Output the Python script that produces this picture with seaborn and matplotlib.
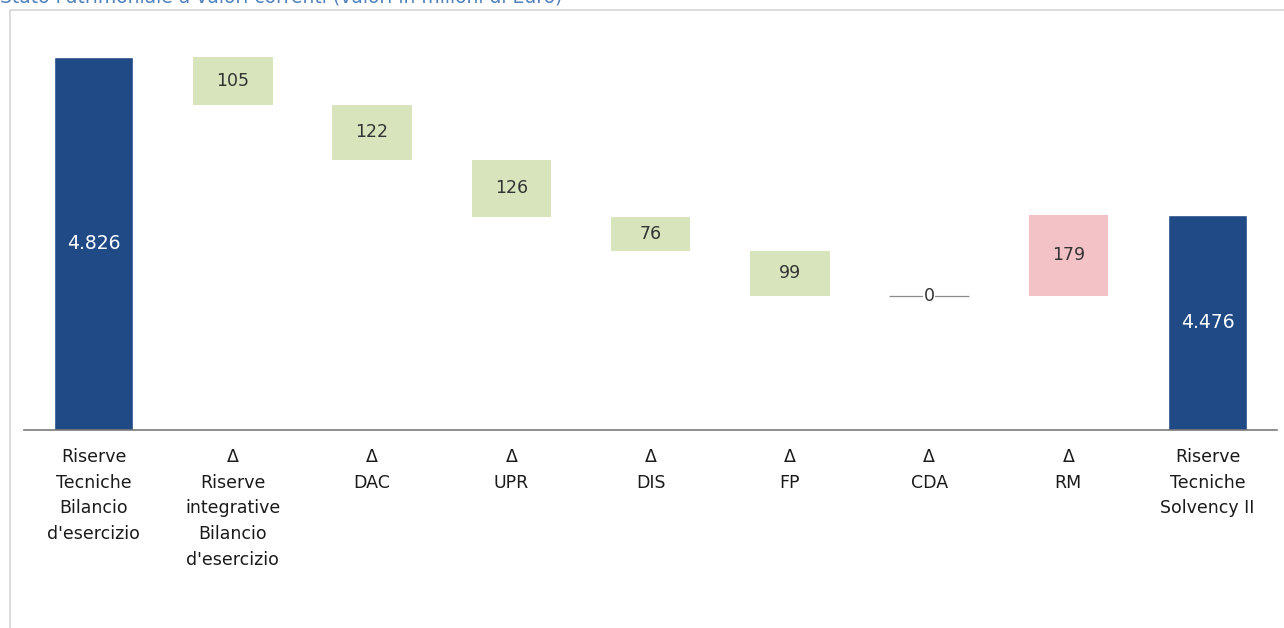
import matplotlib.pyplot as plt
import seaborn as sns
import numpy as np
import pandas as pd

# Data (milioni di Euro)
categories = [
    "Riserve\nTecniche\nBilancio\nd'esercizio",
    "Δ\nRiserve\nintegrative\nBilancio\nd'esercizio",
    "Δ\nDAC", "Δ\nUPR", "Δ\nDIS", "Δ\nFP", "Δ\nCDA", "Δ\nRM",
    "Riserve\nTecniche\nSolvency II",
]
values = [4826, -105, -122, -126, -76, -99, 0, 179, 4476]
kinds = ["total", "delta", "delta", "delta", "delta", "delta", "delta", "delta", "total"]

navy = "#1F4A86"
green = "#D7E4BC"
pink = "#F2C2C6"

sns.set_theme(style="white")
plt.rcParams["font.family"] = ["DejaVu Sans"]

fig = plt.figure(figsize=(12.84, 6.28), dpi=100)
ax = fig.add_axes([0.0187, 0.3153, 0.9760, 0.6465])

# total bars through seaborn
totals = pd.DataFrame({
    "cat": [c for c, k in zip(categories, kinds) if k == "total"],
    "val": [v for v, k in zip(values, kinds) if k == "total"],
})
sns.barplot(data=totals, x="cat", y="val", order=categories, color=navy,
            width=0.57, saturation=1, ax=ax)

# floating delta boxes
running = values[0]
for i, (v, k) in enumerate(zip(values, kinds)):
    if k == "total":
        running = v
        continue
    col = pink if v > 0 else green
    if v == 0:
        ax.bar(i, 0, bottom=running, width=0.57, color="none",
               edgecolor="#8c8c8c", linewidth=0.9)
    else:
        ax.bar(i, v, bottom=running, width=0.57, color=col, linewidth=0)
    ax.text(i, running + v / 2, f"{abs(v)}", ha="center", va="center",
            fontsize=12.5, color="#333333",
            bbox=dict(facecolor="white", edgecolor="none", pad=0.3) if v == 0 else None)
    running += v

ylo, yhi = 4000, 4900
ax.set_ylim(ylo, yhi)
ax.set_xlim(-0.5, len(categories) - 0.5)

# labels inside total bars
for i, (v, k) in enumerate(zip(values, kinds)):
    if k == "total":
        ax.text(i, (ylo + v) / 2, f"{v:,}".replace(",", "."), ha="center",
                va="center", fontsize=13.5, color="white")

ax.set_xlabel("")
ax.set_ylabel("")
ax.set_yticks([])
ax.set_xticks(range(len(categories)))
ax.set_xticklabels(categories, fontsize=12.5, linespacing=1.55, color="#1a1a1a")
ax.tick_params(axis="x", length=0, pad=13)
for s in ["top", "left", "right"]:
    ax.spines[s].set_visible(False)
ax.spines["bottom"].set_color("#7a7a7a")
ax.spines["bottom"].set_linewidth(1.2)

# chart frame and cropped title
frame = plt.Rectangle((10 / 1284, -0.02), 1.02, 1 - 10 / 628 + 0.02,
                      transform=fig.transFigure, fill=False,
                      edgecolor="#d6d6d6", linewidth=1.2)
fig.patches.append(frame)
fig.text(0.0, 1 - 2.5 / 628, "Stato Patrimoniale a valori correnti (valori in milioni di Euro)",
         ha="left", va="baseline", fontsize=13.5, color="#4F81BD")

plt.savefig("out.png", dpi=100)
